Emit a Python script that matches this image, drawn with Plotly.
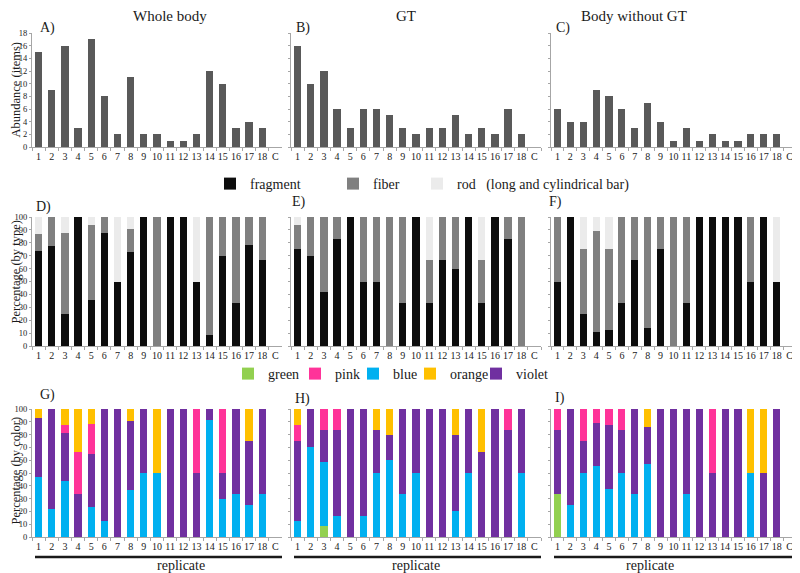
import plotly.graph_objects as go
from plotly.subplots import make_subplots

# ── Data ───────────────────────────────────────────────
categories = ["1", "2", "3", "4", "5", "6", "7", "8", "9", "10",
              "11", "12", "13", "14", "15", "16", "17", "18", "C"]
panel_titles = ["Whole body", "GT", "Body without GT"]

# abundance (items)
abund_whole = [15, 9, 16, 3, 17, 8, 2, 11, 2, 2, 1, 1, 2, 12, 10, 3, 4, 3, 0]
abund_gt = [16, 10, 12, 6, 3, 6, 6, 5, 3, 2, 3, 3, 5, 2, 3, 2, 6, 2, 0]
abund_body = [6, 4, 4, 9, 8, 6, 3, 7, 4, 1, 3, 1, 2, 1, 1, 2, 2, 2, 0]

# percentage by type
frag_whole = [73.3, 77.8, 25, 100, 35.3, 87.5, 50, 72.7, 100, 0, 100, 100, 50, 8.3, 70, 33.3, 78, 66.7, 0]
fiber_whole = [13.3, 22.2, 62.5, 0, 58.8, 12.5, 0, 18.2, 0, 100, 0, 0, 0, 91.7, 30, 66.7, 22, 33.3, 0]
rod_whole = [13.4, 0, 12.5, 0, 5.9, 0, 50, 9.1, 0, 0, 0, 0, 50, 0, 0, 0, 0, 0, 0]

frag_gt = [75, 70, 41.7, 83.3, 100, 50, 50, 0, 33.3, 100, 33.3, 66.7, 60, 100, 33.3, 100, 83.3, 0, 0]
fiber_gt = [18.8, 30, 58.3, 16.7, 0, 50, 50, 100, 66.7, 0, 33.3, 33.3, 40, 0, 33.3, 0, 16.7, 100, 0]
rod_gt = [6.2, 0, 0, 0, 0, 0, 0, 0, 0, 0, 33.4, 0, 0, 0, 33.4, 0, 0, 0, 0]

frag_body = [50, 100, 25, 11.1, 12.5, 33.3, 66.7, 14.3, 75, 0, 33.3, 100, 100, 100, 100, 50, 100, 50, 0]
fiber_body = [50, 0, 50, 77.8, 62.5, 66.7, 33.3, 85.7, 25, 100, 66.7, 0, 0, 0, 0, 50, 0, 0, 0]
rod_body = [0, 0, 25, 11.1, 25, 0, 0, 0, 0, 0, 0, 0, 0, 0, 0, 0, 0, 50, 0]

# percentage by color
green_whole = [0] * 19
blue_whole = [46.7, 22.2, 43.8, 0, 23.5, 12.5, 0, 36.4, 50, 50, 0, 0, 0, 91.7, 30, 33.3, 25, 33.3, 0]
violet_whole = [46.6, 77.8, 37.5, 33.4, 41.2, 87.5, 100, 54.5, 50, 0, 100, 100, 50, 8.3, 20, 66.7, 50, 66.7, 0]
pink_whole = [0, 0, 6.2, 33.3, 23.5, 0, 0, 0, 0, 0, 0, 0, 50, 0, 50, 0, 0, 0, 0]
orange_whole = [6.7, 0, 12.5, 33.3, 11.8, 0, 0, 9.1, 0, 50, 0, 0, 0, 0, 0, 0, 25, 0, 0]

green_gt = [0, 0, 8.3, 0, 0, 0, 0, 0, 0, 0, 0, 0, 0, 0, 0, 0, 0, 0, 0]
blue_gt = [12.5, 70, 50, 16.7, 0, 16.7, 50, 60, 33.3, 50, 0, 0, 20, 50, 0, 0, 0, 50, 0]
violet_gt = [62.5, 30, 25, 66.6, 100, 83.3, 33.3, 20, 66.7, 50, 100, 100, 60, 50, 66.7, 100, 83.3, 50, 0]
pink_gt = [12.5, 0, 16.7, 16.7, 0, 0, 0, 0, 0, 0, 0, 0, 0, 0, 0, 0, 16.7, 0, 0]
orange_gt = [12.5, 0, 0, 0, 0, 0, 16.7, 20, 0, 0, 0, 0, 20, 0, 33.3, 0, 0, 0, 0]

green_body = [33.3, 0, 0, 0, 0, 0, 0, 0, 0, 0, 0, 0, 0, 0, 0, 0, 0, 0, 0]
blue_body = [0, 25, 50, 55.6, 37.5, 50, 33.3, 57.1, 0, 0, 33.3, 0, 0, 0, 0, 50, 0, 0, 0]
violet_body = [50, 75, 25, 33.3, 50, 33.3, 66.7, 28.6, 100, 100, 66.7, 100, 50, 100, 100, 0, 50, 100, 0]
pink_body = [16.7, 0, 25, 11.1, 12.5, 16.7, 0, 0, 0, 0, 0, 0, 50, 0, 0, 0, 0, 0, 0]
orange_body = [0, 0, 0, 0, 0, 0, 0, 14.3, 0, 0, 0, 0, 0, 0, 0, 50, 50, 0, 0]

# page body has an 8px margin, so the figure is 8px smaller and offset
OFF = 8
W, H = 800 - OFF, 573 - OFF
FONT = "Liberation Serif"
TXT = "#1a1a1a"


def px_x(v):
    return (v - OFF) / W


def px_y(v):
    return 1 - (v - OFF) / H


fig = make_subplots(rows=3, cols=3)

# ── Row 1: abundance ───────────────────────────────────
for col, vals in enumerate([abund_whole, abund_gt, abund_body], start=1):
    fig.add_trace(go.Bar(x=categories, y=vals, marker_color="#595959",
                         showlegend=False), row=1, col=col)

# ── Row 2: by type ─────────────────────────────────────
type_sets = [(frag_whole, fiber_whole, rod_whole),
             (frag_gt, fiber_gt, rod_gt),
             (frag_body, fiber_body, rod_body)]
type_names = ["fragment", "fiber", "rod\u00a0\u00a0\u00a0(long and cylindrical bar)"]
type_colors = ["#0d0d0d", "#808080", "#ebebeb"]
type_legends = ["legend", "legend2", "legend3"]
for col, series in enumerate(type_sets, start=1):
    for vals, name, color, lg in zip(series, type_names, type_colors, type_legends):
        fig.add_trace(go.Bar(x=categories, y=vals, name=name, marker_color=color,
                             legend=lg, showlegend=(col == 1)), row=2, col=col)

# ── Row 3: by color (stack bottom-up) ──────────────────
color_sets = [(green_whole, blue_whole, violet_whole, pink_whole, orange_whole),
              (green_gt, blue_gt, violet_gt, pink_gt, orange_gt),
              (green_body, blue_body, violet_body, pink_body, orange_body)]
color_names = ["green", "blue", "violet", "pink", "orange"]
color_cols = ["#92d050", "#00b0f0", "#7030a0", "#ff3399", "#ffc000"]
color_legends = ["legend4", "legend6", "legend8", "legend5", "legend7"]
for col, series in enumerate(color_sets, start=1):
    for vals, name, color, lg in zip(series, color_names, color_cols, color_legends):
        fig.add_trace(go.Bar(x=categories, y=vals, name=name, marker_color=color,
                             legend=lg, showlegend=(col == 1)), row=3, col=col)

fig.update_traces(marker_line_width=0)

# ── Axes (positions in reference pixels) ──────────────
x_dom = [(32, 282), (291, 541), (551, 796)]
y_dom = [(147, 33), (346, 217), (537, 409)]
y_rng = [[0, 18], [0, 100], [0, 100]]
y_dt = [2, 10, 10]

for r in range(3):
    for c in range(3):
        i = r * 3 + c + 1
        sfx = "" if i == 1 else str(i)
        fig.layout["xaxis" + sfx].update(
            domain=[px_x(x_dom[c][0]), px_x(x_dom[c][1])],
            type="category", tickmode="array", tickvals=categories, tickangle=0,
            showline=True, linecolor="#a6a6a6", linewidth=1,
            ticks="outside", tickson="boundaries", ticklen=3, tickcolor="#a6a6a6",
            tickfont=dict(family=FONT, size=10, color=TXT),
            showgrid=False, zeroline=False, fixedrange=True, automargin=False)
        fig.layout["yaxis" + sfx].update(
            domain=[px_y(y_dom[r][0]), px_y(y_dom[r][1])],
            range=y_rng[r], dtick=y_dt[r],
            showline=True, linecolor="#a6a6a6", linewidth=1,
            ticks="outside", ticklen=2, tickcolor="#a6a6a6",
            showticklabels=(c == 0),
            tickfont=dict(family=FONT, size=8.5, color=TXT),
            showgrid=False, zeroline=False, fixedrange=True, automargin=False)

# ── Legends (one entry each, placed like the original) ─
leg_pos = {"legend": (210, 184), "legend2": (333, 184), "legend3": (417, 184),
           "legend4": (228, 374), "legend5": (295, 374), "legend6": (353, 374),
           "legend7": (410, 374), "legend8": (476, 374)}
for lg, (lx, ly) in leg_pos.items():
    fig.layout[lg] = dict(x=px_x(lx), y=px_y(ly), xanchor="left", yanchor="middle",
                          orientation="h", bgcolor="rgba(0,0,0,0)",
                          font=dict(family=FONT, size=14, color=TXT))

# ── Text ───────────────────────────────────────────────
ann = []
for title, cx in zip(panel_titles, [133, 406, 687]):
    ann.append(dict(text=title, x=px_x(cx), y=1, yanchor="top"))
letters = [("A)", 40, 28), ("B)", 296, 28), ("C)", 556, 28),
           ("D)", 36, 207), ("E)", 292, 202), ("F)", 549, 202),
           ("G)", 40, 395), ("H)", 295, 399), ("I)", 555, 398)]
for t, lx, ly in letters:
    ann.append(dict(text=t, x=px_x(lx), y=px_y(ly), xanchor="left",
                    font=dict(family=FONT, size=14, color=TXT)))
for t, ly in [("Abundance (items)", 90), ("Percentage (by type)", 272),
              ("Percentage (by color)", 471)]:
    ann.append(dict(text=t, x=px_x(15.5), y=px_y(ly), textangle=-90, xanchor="center",
                    font=dict(family=FONT, size=12.5, color=TXT)))
shapes = []
for x0, x1 in x_dom:
    ann.append(dict(text="replicate", x=px_x((x0 + x1) / 2), y=px_y(565),
                    font=dict(family=FONT, size=14, color=TXT)))
    shapes.append(dict(type="line", xref="paper", yref="paper",
                       x0=px_x(x0 + 3), x1=px_x(x1), y0=px_y(557), y1=px_y(557),
                       line=dict(color=TXT, width=2.5)))
for a in ann:
    a.update(xref="paper", yref="paper", showarrow=False, borderpad=0, borderwidth=0)
    a.setdefault("yanchor", "middle")
    a.setdefault("font", dict(family=FONT, size=15, color=TXT))

fig.update_layout(width=W, height=H, autosize=False, barmode="stack", bargap=0.45,
                  margin=dict(l=0, r=0, t=0, b=0, autoexpand=False),
                  plot_bgcolor="white", paper_bgcolor="white",
                  annotations=ann, shapes=shapes,
                  font=dict(family=FONT, color=TXT))

fig.write_html("out.html")
